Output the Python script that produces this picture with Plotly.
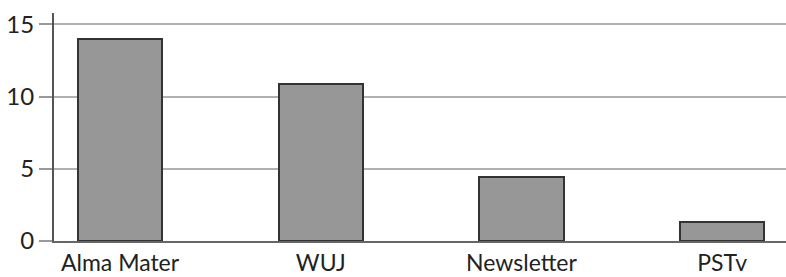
import plotly.graph_objects as go

categories = ["Alma Mater", "WUJ", "Newsletter", "PSTv"]
values = [14.0, 10.9, 4.4, 1.3]
y_ticks = [0, 5, 10, 15]

fig = go.Figure()
fig.add_trace(go.Bar(
    x=categories,
    y=values,
    width=0.42,
    marker=dict(color="#979797", line=dict(color="#333333", width=2)),
))

font_family = "Lato, 'Open Sans', sans-serif"

fig.update_layout(
    width=786,
    height=277,
    margin=dict(l=54, r=0, t=13, b=36, autoexpand=False),
    paper_bgcolor="white",
    plot_bgcolor="white",
    showlegend=False,
    font=dict(family=font_family, size=24, color="#222222"),
    bargap=0,
)
fig.update_xaxes(
    range=[-0.329, 3.318],
    showline=True,
    linecolor="#666666",
    linewidth=2,
    showgrid=False,
    ticks="",
    automargin=False,
    ticklabelstandoff=0,
    tickfont=dict(size=23, color="#222222"),
)
fig.update_yaxes(
    range=[0, 15.78],
    tickvals=y_ticks,
    showline=True,
    linecolor="#555555",
    linewidth=2,
    showgrid=True,
    gridcolor="#b0b0b0",
    gridwidth=1.5,
    zeroline=False,
    ticks="outside",
    ticklen=13,
    tickcolor="#999999",
    tickwidth=1.5,
    automargin=False,
    tickfont=dict(size=24, color="#222222"),
)

fig.write_html(
    "out.html",
    config={"displayModeBar": False},
    post_script="document.body.style.margin='0';document.body.style.overflow='hidden';",
)
